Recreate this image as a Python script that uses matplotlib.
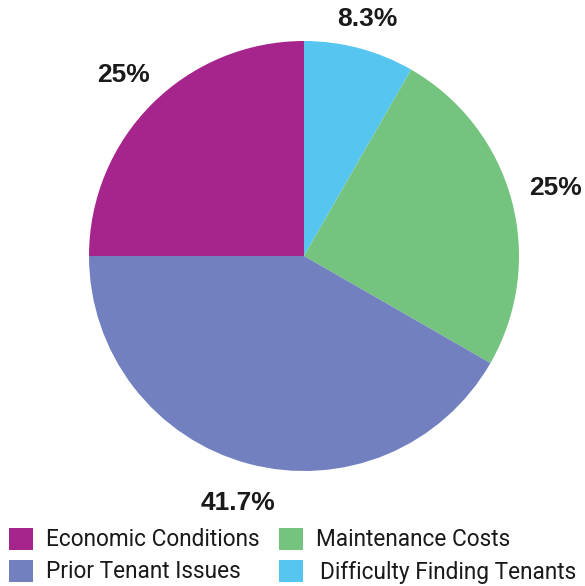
import matplotlib.pyplot as plt
from matplotlib.patches import Rectangle

W, H = 585, 586

categories = ['Difficulty Finding Tenants', 'Maintenance Costs', 'Prior Tenant Issues', 'Economic Conditions']
values = [8.3, 25, 41.7, 25]
colors = ['#56C5F0', '#74C480', '#7280C0', '#A5258C']

# legend order as in the reference (row by row)
legend_order = ['Economic Conditions', 'Maintenance Costs', 'Prior Tenant Issues', 'Difficulty Finding Tenants']


def fmt_pct(p):
    return f'{p:.1f}%'.replace('.0%', '%')


fig = plt.figure(figsize=(W / 100, H / 100), dpi=100)
fig.patch.set_facecolor('white')

# pie centre at (304, 256) px, radius 215 px
cx, cy, r = 304, 256, 215
ax = fig.add_axes([(cx - r) / W, (H - cy - r) / H, 2 * r / W, 2 * r / H])

wedges, texts, autotexts = ax.pie(
    values, colors=colors, startangle=90, counterclock=False,
    autopct=fmt_pct, pctdistance=1.19,
    textprops=dict(fontsize=19, fontweight='bold', color='#1a1a1a', family='Liberation Sans'),
    wedgeprops=dict(linewidth=0))
ax.set_xlim(-1, 1)
ax.set_ylim(-1, 1)
ax.set_aspect('equal')

# the small slice label sits a bit closer to the pie
x, y = autotexts[0].get_position()
autotexts[0].set_position((x * 1.14 / 1.19, y * 1.14 / 1.19))
# right-hand label sits slightly further out
x, y = autotexts[1].get_position()
autotexts[1].set_position((x * 1.21 / 1.19, y * 1.21 / 1.19))

# legend drawn by hand: two columns, two rows
col_x = [9, 279]
row_y = [539, 571]
for i, name in enumerate(legend_order):
    c = colors[categories.index(name)]
    lx = col_x[i % 2]
    ly = row_y[i // 2]
    fig.add_artist(Rectangle((lx / W, (H - ly - 11) / H), 24 / W, 22 / H,
                             transform=fig.transFigure, color=c, lw=0))
    fig.text((lx + 37 + (4 if i == 3 else 0)) / W, (H - ly - 1) / H, name,
             fontsize=16.3, color='#1a1a1a', family='Roboto', va='center', ha='left')

fig.savefig('out.png', dpi=100, facecolor='white')
